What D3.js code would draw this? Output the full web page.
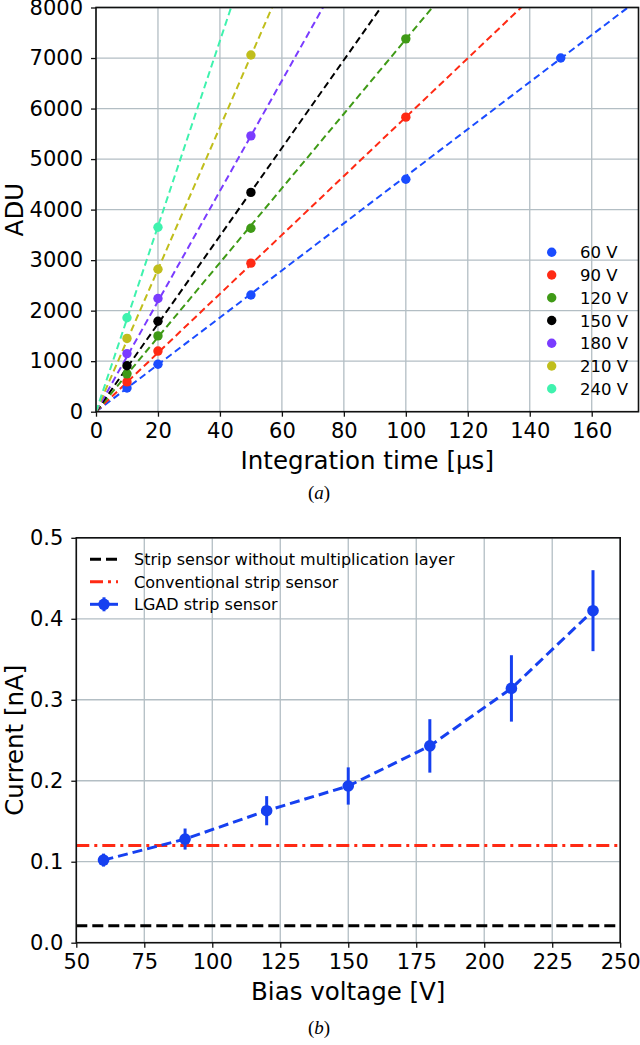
<!DOCTYPE html>
<html><head><meta charset="utf-8">
<script src="https://cdn.jsdelivr.net/npm/d3@7"></script>
<style>
html,body{margin:0;padding:0;background:#fff;}
text{font-family:"DejaVu Sans",sans-serif;fill:#000;}
</style></head>
<body>
<svg id="c" width="640" height="1045"></svg>
<script>
// ---- Data: panel (a)
const intTimes = [10, 20, 50, 100, 150];
const biasLabels = ["60 V", "90 V", "120 V", "150 V", "180 V", "210 V", "240 V"];
const adu60  = [470, 940, 2310, 4600, 7000];
const adu90  = [590, 1200, 2940, 5830];
const adu120 = [750, 1500, 3630, 7380];
const adu150 = [910, 1790, 4340];
const adu180 = [1150, 2240, 5460];
const adu210 = [1450, 2820, 7060];
const adu240 = [1860, 3650];
const fitSlopes = [46.6, 58.3, 73.7, 87.0, 109.2, 140.8, 183.5];
const seriesColors = ["#1a4cff", "#ff2a14", "#3f9a16", "#000000", "#7a3cff", "#c0be1c", "#3ff2ae"];
const xTicksA = [0, 20, 40, 60, 80, 100, 120, 140, 160];
const yTicksA = [0, 1000, 2000, 3000, 4000, 5000, 6000, 7000, 8000];

// ---- Data: panel (b)
const voltages = [60, 90, 120, 150, 180, 210, 240];
const currents = [0.102, 0.128, 0.163, 0.1935, 0.243, 0.314, 0.41];
const currentErr = [0.008, 0.013, 0.018, 0.023, 0.033, 0.041, 0.05];
const conventionalLevel = 0.12;
const noMultLevel = 0.021;
const legendB = ["Strip sensor without multiplication layer", "Conventional strip sensor", "LGAD strip sensor"];
const xTicksB = [50, 75, 100, 125, 150, 175, 200, 225, 250];
const yTicksB = [0.0, 0.1, 0.2, 0.3, 0.4, 0.5];

const svg = d3.select("#c");
const gridCol = "#b3bec4";
const tickFont = "21px", labelFont = "24.5px";

function styleAxis(a) {
  a.select(".domain").remove();
  a.selectAll("line").attr("stroke", "#111").attr("stroke-width", 1.3);
  a.selectAll("text").style("font-size", tickFont).style("font-family", "DejaVu Sans");
}

// ================= Panel (a)
(function(){
  const L = 96, R = 638.5, T = 7.5, B = 411.7;
  const x = d3.scaleLinear().domain([0, 175.1]).range([L, R]);
  const y = d3.scaleLinear().domain([0, 8000]).range([B, T]);
  const g = svg.append("g");
  const clipId = "clipA";
  svg.append("clipPath").attr("id", clipId).append("rect").attr("x", L).attr("y", T).attr("width", R - L).attr("height", B - T);

  g.selectAll(".gx").data(xTicksA).join("line").attr("x1", d => x(d)).attr("x2", d => x(d)).attr("y1", T).attr("y2", B).attr("stroke", gridCol).attr("stroke-width", 1.3);
  g.selectAll(".gy").data(yTicksA).join("line").attr("y1", d => y(d)).attr("y2", d => y(d)).attr("x1", L).attr("x2", R).attr("stroke", gridCol).attr("stroke-width", 1.3);

  const allSeries = [adu60, adu90, adu120, adu150, adu180, adu210, adu240];
  const lg = g.append("g").attr("clip-path", `url(#${clipId})`);
  fitSlopes.forEach((s, i) => {
    const xEnd = Math.min(175.1, 8000 / s);
    lg.append("line").attr("x1", x(0)).attr("y1", y(0)).attr("x2", x(xEnd)).attr("y2", y(s * xEnd))
      .attr("stroke", seriesColors[i]).attr("stroke-width", 2).attr("stroke-dasharray", "7,4");
  });
  allSeries.forEach((arr, i) => {
    lg.selectAll(null).data(arr).join("circle")
      .attr("cx", (d, j) => x(intTimes[j])).attr("cy", d => y(d)).attr("r", 4.7).attr("fill", seriesColors[i]);
  });

  g.append("rect").attr("x", L).attr("y", T).attr("width", R - L).attr("height", B - T).attr("fill", "none").attr("stroke", "#111").attr("stroke-width", 1.6);

  const xa = g.append("g").attr("transform", `translate(0,${B})`).call(d3.axisBottom(x).tickValues(xTicksA).tickSize(5).tickPadding(6).tickFormat(d3.format("d")));
  const ya = g.append("g").attr("transform", `translate(${L},0)`).call(d3.axisLeft(y).tickValues(yTicksA).tickSize(5).tickPadding(8).tickFormat(d3.format("d")));
  styleAxis(xa); styleAxis(ya);

  g.append("text").attr("x", (L + R) / 2).attr("y", 469).attr("text-anchor", "middle").style("font-size", labelFont).text("Integration time [μs]");
  g.append("text").attr("transform", `translate(23,${(T + B) / 2}) rotate(-90)`).attr("text-anchor", "middle").style("font-size", labelFont).text("ADU");

  const leg = g.append("g");
  biasLabels.forEach((lab, i) => {
    const yy = 252.3 + i * 22.75;
    leg.append("circle").attr("cx", 551.7).attr("cy", yy).attr("r", 4.7).attr("fill", seriesColors[i]);
    leg.append("text").attr("x", 580).attr("y", yy + 6).style("font-size", "16.5px").text(lab);
  });

  const cap = g.append("text").attr("x", 319).attr("y", 499).attr("text-anchor", "middle").style("font-family", "Liberation Serif").style("font-size", "19px");
  cap.append("tspan").text("(");
  cap.append("tspan").style("font-style", "italic").text("a");
  cap.append("tspan").text(")");
})();

// ================= Panel (b)
(function(){
  const L = 76.3, R = 620.2, T = 537.8, B = 942.7;
  const x = d3.scaleLinear().domain([50, 250]).range([L, R]);
  const y = d3.scaleLinear().domain([0, 0.5]).range([B, T]);
  const g = svg.append("g");

  g.selectAll(".gx").data(xTicksB).join("line").attr("x1", d => x(d)).attr("x2", d => x(d)).attr("y1", T).attr("y2", B).attr("stroke", gridCol).attr("stroke-width", 1.3);
  g.selectAll(".gy").data(yTicksB).join("line").attr("y1", d => y(d)).attr("y2", d => y(d)).attr("x1", L).attr("x2", R).attr("stroke", gridCol).attr("stroke-width", 1.3);

  g.append("line").attr("x1", L).attr("x2", R).attr("y1", y(noMultLevel)).attr("y2", y(noMultLevel)).attr("stroke", "#000").attr("stroke-width", 3).attr("stroke-dasharray", "11,5");
  g.append("line").attr("x1", L).attr("x2", R).attr("y1", y(conventionalLevel)).attr("y2", y(conventionalLevel)).attr("stroke", "#ff2a14").attr("stroke-width", 3).attr("stroke-dasharray", "13,5,3,5");

  const blue = "#1640f0";
  const line = d3.line().x((d, i) => x(voltages[i])).y(d => y(d));
  g.append("path").datum(currents).attr("d", line).attr("fill", "none").attr("stroke", blue).attr("stroke-width", 3).attr("stroke-dasharray", "10,5");
  g.selectAll(".eb").data(currents).join("line")
    .attr("x1", (d, i) => x(voltages[i])).attr("x2", (d, i) => x(voltages[i]))
    .attr("y1", (d, i) => y(d - currentErr[i])).attr("y2", (d, i) => y(d + currentErr[i]))
    .attr("stroke", blue).attr("stroke-width", 3);
  g.selectAll(".pt").data(currents).join("circle")
    .attr("cx", (d, i) => x(voltages[i])).attr("cy", d => y(d)).attr("r", 5.8).attr("fill", blue);

  g.append("rect").attr("x", L).attr("y", T).attr("width", R - L).attr("height", B - T).attr("fill", "none").attr("stroke", "#111").attr("stroke-width", 1.6);

  const xa = g.append("g").attr("transform", `translate(0,${B})`).call(d3.axisBottom(x).tickValues(xTicksB).tickSize(5).tickPadding(6).tickFormat(d3.format("d")));
  const ya = g.append("g").attr("transform", `translate(${L},0)`).call(d3.axisLeft(y).tickValues(yTicksB).tickSize(5).tickPadding(8).tickFormat(d3.format(".1f")));
  styleAxis(xa); styleAxis(ya);

  g.append("text").attr("x", (L + R) / 2).attr("y", 1000).attr("text-anchor", "middle").style("font-size", labelFont).text("Bias voltage [V]");
  g.append("text").attr("transform", `translate(23,${(T + B) / 2}) rotate(-90)`).attr("text-anchor", "middle").style("font-size", labelFont).text("Current [nA]");

  const rows = [559.3, 581.7, 604.3];
  g.append("line").attr("x1", 90).attr("x2", 118).attr("y1", rows[0]).attr("y2", rows[0]).attr("stroke", "#000").attr("stroke-width", 3).attr("stroke-dasharray", "11,5");
  g.append("line").attr("x1", 90).attr("x2", 118).attr("y1", rows[1]).attr("y2", rows[1]).attr("stroke", "#ff2a14").attr("stroke-width", 3).attr("stroke-dasharray", "13,5,3,5");
  g.append("line").attr("x1", 90).attr("x2", 118).attr("y1", rows[2]).attr("y2", rows[2]).attr("stroke", blue).attr("stroke-width", 3);
  g.append("line").attr("x1", 104).attr("x2", 104).attr("y1", rows[2] - 7).attr("y2", rows[2] + 7).attr("stroke", blue).attr("stroke-width", 3);
  g.append("circle").attr("cx", 104).attr("cy", rows[2]).attr("r", 5.8).attr("fill", blue);
  legendB.forEach((t, i) => {
    g.append("text").attr("x", 134).attr("y", rows[i] + 6).style("font-size", "16px").text(t);
  });

  const cap = g.append("text").attr("x", 319).attr("y", 1034).attr("text-anchor", "middle").style("font-family", "Liberation Serif").style("font-size", "19px");
  cap.append("tspan").text("(");
  cap.append("tspan").style("font-style", "italic").text("b");
  cap.append("tspan").text(")");
})();
</script>
</body></html>
